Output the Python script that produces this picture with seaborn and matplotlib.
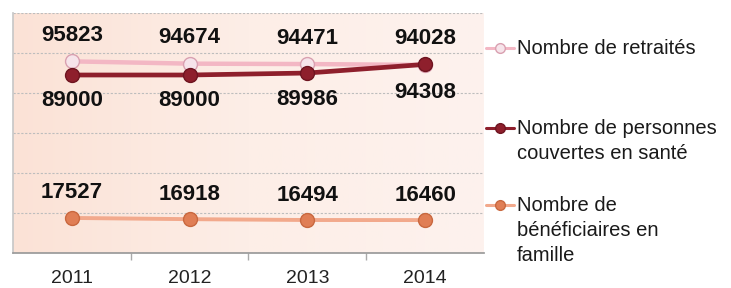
import numpy as np
import pandas as pd
import matplotlib
matplotlib.use("Agg")
import matplotlib.pyplot as plt
import seaborn as sns
from matplotlib.colors import LinearSegmentedColormap
from matplotlib.lines import Line2D

years = ["2011", "2012", "2013", "2014"]
retraites = [95823, 94674, 94471, 94028]
personnes = [89000, 89000, 89986, 94308]
beneficiaires = [17527, 16918, 16494, 16460]
series_names = ["Nombre de retraités",
                "Nombre de personnes\ncouvertes en santé",
                "Nombre de\nbénéficiaires en\nfamille"]

sns.set_theme(style="white")
plt.rcParams['font.family'] = ['Liberation Sans', 'DejaVu Sans']

df = pd.DataFrame({
    "year": years * 3,
    "value": retraites + personnes + beneficiaires,
    "series": [series_names[0]] * 4 + [series_names[1]] * 4 + [series_names[2]] * 4,
})
df["x"] = df["year"].map({y: i for i, y in enumerate(years)})

line_colors = ["#f3b7c4", "#8e1f2c", "#f2a98c"]
face_colors = ["#f6e4ea", "#8e1f2c", "#e07e55"]
edge_colors = ["#d9a0b0", "#6e1420", "#c9683f"]
lws = [3.2, 3.4, 2.8]

fig = plt.figure(figsize=(7.31, 2.88), dpi=100)
ax = fig.add_axes([13 / 731, 35 / 288, 471 / 731, 240 / 288])

# background gradient
cmap = LinearSegmentedColormap.from_list("bg", ["#fbe2d6", "#fdeee7", "#fdf2ee"])
grad = np.linspace(0, 1, 256).reshape(1, -1)
ax.imshow(grad, extent=[0, 1, 0, 1], transform=ax.transAxes, cmap=cmap,
          aspect="auto", zorder=0)

for i, name in enumerate(series_names):
    sub = df[df["series"] == name]
    sns.lineplot(data=sub, x="x", y="value", ax=ax, color=line_colors[i],
                 lw=lws[i], marker="o", markersize=10,
                 markerfacecolor=face_colors[i], markeredgecolor=edge_colors[i],
                 markeredgewidth=1.0, zorder=3 + i, legend=False)

ax.set_xlim(-0.5, 3.5)
ax.set_ylim(0, 120000)
ax.set_yticks(np.arange(0, 120001, 20000))
ax.yaxis.grid(True, color="#bdbdbd", linestyle=(0, (2, 1.5)), lw=0.8)
ax.set_axisbelow(True)
ax.tick_params(axis="y", left=False, labelleft=False)
ax.set_xticks(range(4))
ax.set_xticklabels(years, fontsize=14, color="#222222")
ax.set_xticks([0.5, 1.5, 2.5], minor=True)
ax.tick_params(axis="x", which="major", length=0, pad=12)
ax.tick_params(axis="x", which="minor", length=5, color="#aaaaaa", bottom=True)
ax.set_xlabel("")
ax.set_ylabel("")
for s in ["top", "right"]:
    ax.spines[s].set_visible(False)
ax.spines["left"].set_color("#c8c8c8")
ax.spines["bottom"].set_color("#9a9a9a")

lab_kw = dict(ha="center", va="center", fontsize=16, fontweight="bold",
              color="#111111", zorder=10)
for i in range(4):
    ax.annotate(f"{retraites[i]}", (i, retraites[i]), xytext=(0, 26),
                textcoords="offset pixels", **lab_kw)
    ax.annotate(f"{personnes[i]}", (i, personnes[i]),
                xytext=(0, -26 if i < 3 else -28), textcoords="offset pixels", **lab_kw)
    ax.annotate(f"{beneficiaires[i]}", (i, beneficiaires[i]), xytext=(0, 25),
                textcoords="offset pixels", **lab_kw)

# manual legend
leg_y = [48, 128, 205]
for i, name in enumerate(series_names):
    yf = 1 - leg_y[i] / 288
    fig.add_artist(Line2D([486 / 731, 514 / 731], [yf, yf], color=line_colors[i],
                          lw=2.2, transform=fig.transFigure))
    fig.add_artist(Line2D([500 / 731], [yf], marker="o", markersize=7,
                          markerfacecolor=face_colors[i], markeredgecolor=edge_colors[i],
                          color=line_colors[i], transform=fig.transFigure))
    fig.text(517 / 731, yf + 9 / 288, name, ha="left", va="top", fontsize=14.5,
             color="#1a1a1a", linespacing=1.4, transform=fig.transFigure)

fig.savefig("out.png", dpi=100)
